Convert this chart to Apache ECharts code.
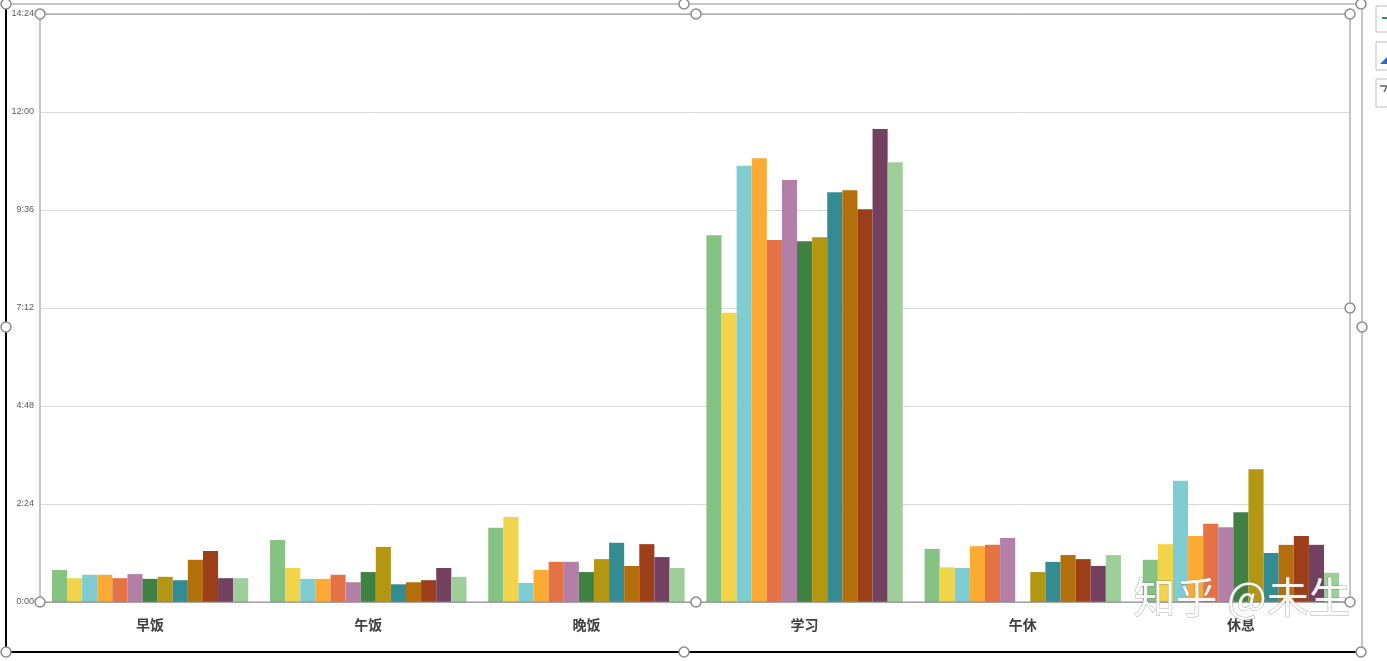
<!DOCTYPE html>
<html><head><meta charset="utf-8">
<script src="https://cdn.jsdelivr.net/npm/echarts@6/dist/echarts.min.js"></script>
<style>html,body{margin:0;padding:0;background:#fff}#c{width:1387px;height:661px}</style>
</head><body><div id="c"></div>
<script>
// categories
const categories = ['早饭','午饭','晚饭','学习','午休','休息'];
// values in minutes, one array per series (13 series)
const s1  = [47, 91, 109, 539, 78, 62];
const s2  = [35, 50, 125, 425, 51, 85];
const s3  = [40, 34, 28, 641, 50, 178];
const s4  = [40, 34, 47, 652, 82, 97];
const s5  = [35, 40, 59, 532, 84, 115];
const s6  = [41, 29, 59, 620, 94, 110];
const s7  = [34, 44, 44, 530, 0, 132];
const s8  = [37, 81, 63, 536, 44, 195];
const s9  = [32, 26, 87, 602, 59, 72];
const s10 = [62, 29, 53, 605, 69, 84];
const s11 = [75, 32, 85, 577, 63, 97];
const s12 = [35, 50, 66, 695, 53, 84];
const s13 = [35, 37, 50, 646, 69, 43];
const seriesValues = [s1,s2,s3,s4,s5,s6,s7,s8,s9,s10,s11,s12,s13];
const colors = ['#86C283','#F2D44A','#7FCDD0','#FBAA33','#E57245','#B47FA6','#3F8043','#B39612','#338C91','#B36F0C','#9C3E18','#74405F','#9ECF9B'];
// y ticks (minutes): 0 .. 864 step 144
const yMin = 0, yMax = 864, yStep = 144;

function fmt(v){const h=Math.floor(v/60), m=Math.round(v%60);return h+':'+(m<10?'0':'')+m;}

const chart = echarts.init(document.getElementById('c'));
const handle = (x,y)=>({type:'circle',shape:{cx:x,cy:y,r:5},style:{fill:'#fff',stroke:'#8c8c8c',lineWidth:1.5},z:100});
chart.setOption({
  animation:false,
  color:colors,
  grid:{left:41,right:37,top:14,bottom:59,containLabel:false},
  xAxis:{type:'category',data:categories,
    axisLine:{lineStyle:{color:'#bfbfbf',width:1}},axisTick:{show:false},
    axisLabel:{color:'#404040',fontSize:14,fontWeight:'bold',margin:16,fontFamily:'Noto Sans CJK SC'}},
  yAxis:{type:'value',min:yMin,max:yMax,interval:yStep,
    axisLine:{show:false},axisTick:{show:false},
    splitLine:{lineStyle:{color:'#d9d9d9',width:1}},
    axisLabel:{formatter:fmt,color:'#595959',fontSize:9,margin:7,padding:[3,0,0,0],fontFamily:'Liberation Sans'}},
  series:seriesValues.map((d,i)=>({type:'bar',name:'系列'+(i+1),data:d,barGap:'0%',barCategoryGap:'10%'})),
  graphic:[
    {type:'rect',shape:{x:6,y:4,width:1356,height:648},style:{fill:'none',stroke:'#8c8c8c',lineWidth:1},z:90},
    {type:'line',shape:{x1:6,y1:0,x2:6,y2:653},style:{stroke:'#000',lineWidth:2},z:91},
    {type:'line',shape:{x1:6,y1:652,x2:1362,y2:652},style:{stroke:'#000',lineWidth:2},z:91},
    {type:'rect',shape:{x:40,y:14,width:1310,height:588},style:{fill:'none',stroke:'#8c8c8c',lineWidth:1},z:90},
    handle(6,4),handle(684,4),handle(1361,4),handle(6,327),handle(1362,327),handle(6,652),handle(684,652),handle(1361,652),
    handle(40,14),handle(696,14),handle(1350,14),handle(1350,308),handle(1350,602),handle(696,602),handle(40,602),
    {type:'rect',shape:{x:1376,y:6,width:14,height:26},style:{fill:'#fff',stroke:'#bfbfbf'},z:90},
    {type:'rect',shape:{x:1382,y:17,width:6,height:2},style:{fill:'#3a8f5a'},z:91},
    {type:'rect',shape:{x:1376,y:42,width:14,height:28},style:{fill:'#fff',stroke:'#bfbfbf'},z:90},
    {type:'polygon',shape:{points:[[1380,64],[1387,57],[1387,64]]},style:{fill:'#2f6bb5'},z:91},
    {type:'rect',shape:{x:1376,y:79,width:14,height:28},style:{fill:'#fff',stroke:'#bfbfbf'},z:90},
    {type:'polyline',shape:{points:[[1380,86],[1387,86],[1384,92]]},style:{stroke:'#666',lineWidth:1.5,fill:'none'},z:91},
    {type:'text',left:1133,top:576,style:{text:'知乎 @未生',fontSize:42,fill:'rgba(255,255,255,0.92)',stroke:'rgba(110,110,110,0.55)',lineWidth:1,fontFamily:'Noto Sans CJK SC'},z:95}
  ]
});
</script></body></html>
